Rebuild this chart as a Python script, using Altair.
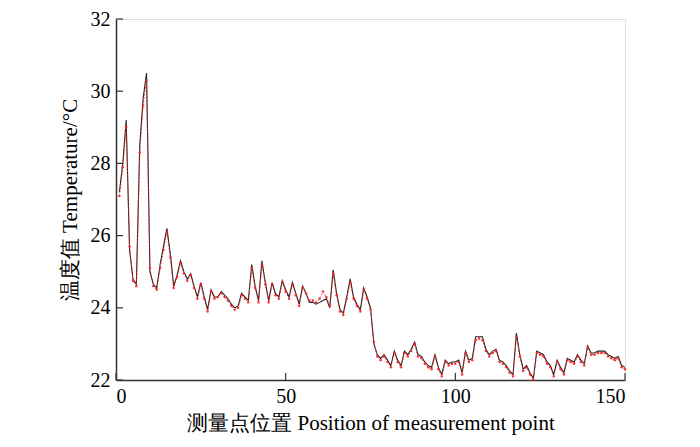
import altair as alt
import pandas as pd

positions = list(range(1, 151))

measured = [
    27.2, 28.0, 29.2, 25.6, 24.8, 24.65, 28.5, 29.8, 30.5, 25.0,
    24.65, 24.55, 25.2, 25.7, 26.2, 25.5, 24.6, 24.9, 25.3, 25.0,
    24.8, 24.95, 24.6, 24.3, 24.7, 24.3, 23.95, 24.5, 24.3, 24.3,
    24.45, 24.35, 24.25, 24.1, 24.0, 24.05, 24.4, 24.3, 24.2, 25.2,
    24.6, 24.2, 25.3, 24.7, 24.2, 24.7, 24.4, 24.3, 24.75, 24.5,
    24.3, 24.7, 24.4, 24.1, 24.6, 24.4, 24.15, 24.15, 24.1, 24.15,
    24.2, 24.25, 24.0, 25.05, 24.4, 23.95, 23.85, 24.3, 24.8, 24.3,
    24.1, 23.95, 24.55, 24.3, 24.0, 23.0, 22.7, 22.6, 22.7, 22.55,
    22.4, 22.8, 22.55, 22.4, 22.8, 22.7, 22.85, 23.05, 22.7, 22.65,
    22.5, 22.4, 22.35, 22.7, 22.35, 22.15, 22.55, 22.45, 22.5, 22.5,
    22.55, 22.2, 22.8, 22.55, 22.6, 23.2, 23.2, 23.2, 22.85, 22.7,
    22.8, 22.85, 22.55, 22.5, 22.4, 22.25, 22.15, 23.3, 22.7, 22.3,
    22.4, 22.2, 22.05, 22.8, 22.75, 22.7, 22.5, 22.4, 22.15, 22.55,
    22.35, 22.2, 22.6, 22.55, 22.5, 22.7, 22.55, 22.45, 22.95, 22.75,
    22.75, 22.8, 22.8, 22.8, 22.7, 22.65, 22.6, 22.65, 22.4, 22.35,
]

predicted = [
    27.1, 27.9, 29.0, 25.7, 24.75, 24.6, 28.3, 29.6, 30.3, 25.1,
    24.6, 24.5, 25.1, 25.6, 26.1, 25.4, 24.55, 24.85, 25.25, 24.95,
    24.75, 24.9, 24.55, 24.25, 24.65, 24.25, 23.9, 24.45, 24.25, 24.3,
    24.4, 24.3, 24.2, 24.05, 23.95, 24.0, 24.35, 24.25, 24.15, 25.1,
    24.55, 24.15, 25.2, 24.65, 24.15, 24.65, 24.35, 24.25, 24.7, 24.45,
    24.25, 24.65, 24.35, 24.05, 24.55, 24.4, 24.2, 24.2, 24.15, 24.25,
    24.45, 24.3, 24.05, 24.95, 24.35, 23.9, 23.8, 24.25, 24.7, 24.25,
    24.05, 23.9, 24.5, 24.25, 23.95, 23.05, 22.65, 22.55, 22.65, 22.5,
    22.35, 22.75, 22.5, 22.35, 22.75, 22.65, 22.8, 23.0, 22.65, 22.6,
    22.45, 22.35, 22.3, 22.65, 22.3, 22.1, 22.5, 22.4, 22.45, 22.45,
    22.5, 22.15, 22.75, 22.5, 22.55, 23.1, 23.15, 23.1, 22.8, 22.65,
    22.75, 22.8, 22.5, 22.45, 22.35, 22.2, 22.1, 23.2, 22.65, 22.25,
    22.35, 22.15, 22.0, 22.75, 22.7, 22.65, 22.45, 22.35, 22.1, 22.5,
    22.3, 22.15, 22.55, 22.5, 22.45, 22.65, 22.5, 22.4, 22.9, 22.7,
    22.7, 22.75, 22.75, 22.75, 22.65, 22.6, 22.55, 22.6, 22.35, 22.3,
]

x_ticks = [0, 50, 100, 150]
y_ticks = [22, 24, 26, 28, 30, 32]

df = pd.DataFrame({"pos": positions, "measured": measured, "predicted": predicted})

FONT = "Liberation Serif"
xscale = alt.Scale(domain=[0, 150], nice=False)
yscale = alt.Scale(domain=[22, 32], nice=False)

xaxis = alt.Axis(
    values=x_ticks, title="测量点位置 Position of measurement point",
    grid=False, tickSize=0, labelPadding=6, titlePadding=6,
    labelFont=FONT, titleFont=FONT, labelFontSize=20, titleFontSize=21,
    titleFontWeight="normal", labelColor="black", titleColor="black",
    domainColor="#333333", domainWidth=1.5,
)
yaxis = alt.Axis(
    values=y_ticks, title="温度值 Temperature/°C",
    grid=False, tickSize=0, labelPadding=6, titlePadding=10,
    labelFont=FONT, titleFont=FONT, labelFontSize=20, titleFontSize=21,
    titleFontWeight="normal", labelColor="black", titleColor="black",
    domainColor="#333333", domainWidth=1.5,
)

base = alt.Chart(df)

black = base.mark_line(color="#222222", strokeWidth=1.1).encode(
    x=alt.X("pos:Q", scale=xscale, axis=xaxis),
    y=alt.Y("measured:Q", scale=yscale, axis=yaxis),
)

red = base.mark_line(color="#ff2020", strokeWidth=1, strokeDash=[1.5, 2]).encode(
    x=alt.X("pos:Q", scale=xscale),
    y=alt.Y("predicted:Q", scale=yscale),
)

red_pts = base.mark_point(color="#ff2020", size=6, filled=True, opacity=0.9).encode(
    x=alt.X("pos:Q", scale=xscale),
    y=alt.Y("predicted:Q", scale=yscale),
)

xt = pd.DataFrame({"t": x_ticks})
yt = pd.DataFrame({"t": y_ticks})

xticks = alt.Chart(xt).mark_rule(color="#333333", strokeWidth=1.2).encode(
    x=alt.X("t:Q", scale=xscale),
    y=alt.value(361), y2=alt.value(354),
)
yticks = alt.Chart(yt).mark_rule(color="#333333", strokeWidth=1.2).encode(
    y=alt.Y("t:Q", scale=yscale),
    x=alt.value(0), x2=alt.value(7),
)

chart = alt.layer(black, red, red_pts, xticks, yticks).properties(
    width=509, height=361,
    autosize=alt.AutoSizeParams(type="none"),
    padding={"left": 108, "top": 11, "right": 60, "bottom": 60},
).configure_view(stroke=None).configure(background="white")

chart.save("out.html", embed_options={"renderer": "svg", "actions": False})
